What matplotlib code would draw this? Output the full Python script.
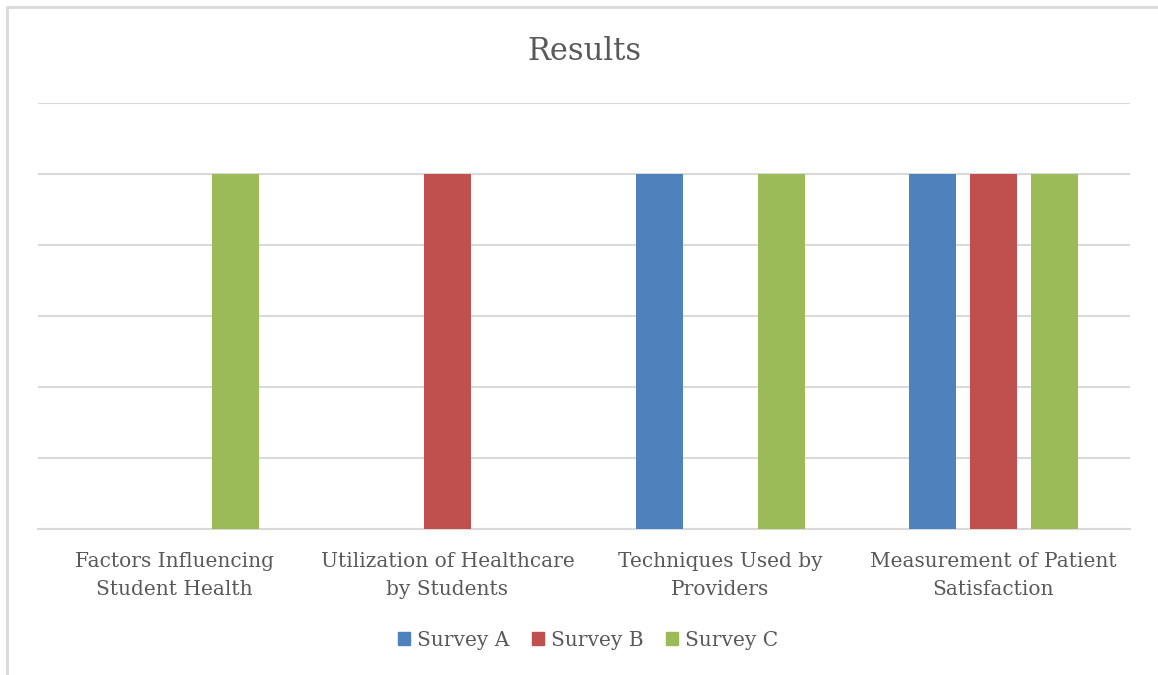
import matplotlib
matplotlib.use("Agg")
import matplotlib.pyplot as plt
from matplotlib.patches import Rectangle, Patch

categories = ["Factors Influencing\nStudent Health",
              "Utilization of Healthcare\nby Students",
              "Techniques Used by\nProviders",
              "Measurement of Patient\nSatisfaction"]
series_names = ["Survey A", "Survey B", "Survey C"]
survey_a = [0, 0, 5, 5]
survey_b = [0, 5, 0, 5]
survey_c = [5, 0, 5, 5]
colors = ["#4F81BD", "#C0504D", "#9BBB59"]

plt.rcParams['font.family'] = ['DejaVu Serif']
txt = "#595959"

fig = plt.figure(figsize=(11.58, 6.75), dpi=100)
W, H = 1158, 675
ax = fig.add_axes([38 / W, 1 - 529 / H, (1130 - 38) / W, (529 - 103) / H])

width = 47 / 273
step = 61 / 273
xs = range(len(categories))
for i, (vals, c) in enumerate(zip([survey_a, survey_b, survey_c], colors)):
    ax.bar([x + (i - 1) * step for x in xs], vals, width=width, color=c,
           label=series_names[i], zorder=3)

ax.set_xlim(-0.5, 3.5)
ax.set_ylim(0, 6)
ax.set_yticks(range(0, 7))
ax.yaxis.grid(True, color="#D9D9D9", linewidth=1.5, zorder=0)
ax.tick_params(axis='y', left=False, labelleft=False)
ax.tick_params(axis='x', bottom=False, pad=13)
ax.set_xticks(list(xs))
ax.set_xticklabels(categories, fontsize=14.5, color=txt, linespacing=1.62)
for s in ["top", "right", "left"]:
    ax.spines[s].set_visible(False)
ax.spines["bottom"].set_color("#D9D9D9")
ax.spines["bottom"].set_linewidth(1.5)

fig.text(584 / W, 1 - 51 / H, "Results", ha="center", va="center",
         fontsize=22, color=txt)

handles = [Patch(color=c, label=n) for c, n in zip(colors, series_names)]
fig.legend(handles=handles, loc="center", bbox_to_anchor=(588 / W, 1 - 640 / H),
           ncol=3, frameon=False, fontsize=14.5, labelcolor=txt,
           handlelength=0.6, handleheight=0.6, handletextpad=0.35, columnspacing=1.1)

fig.patches.append(Rectangle((7 / W, -0.1), 1.2, 1 - 7 / H + 0.1, transform=fig.transFigure,
                             fill=False, edgecolor="#D9D9D9", linewidth=2))

fig.savefig("out.png", dpi=100)
